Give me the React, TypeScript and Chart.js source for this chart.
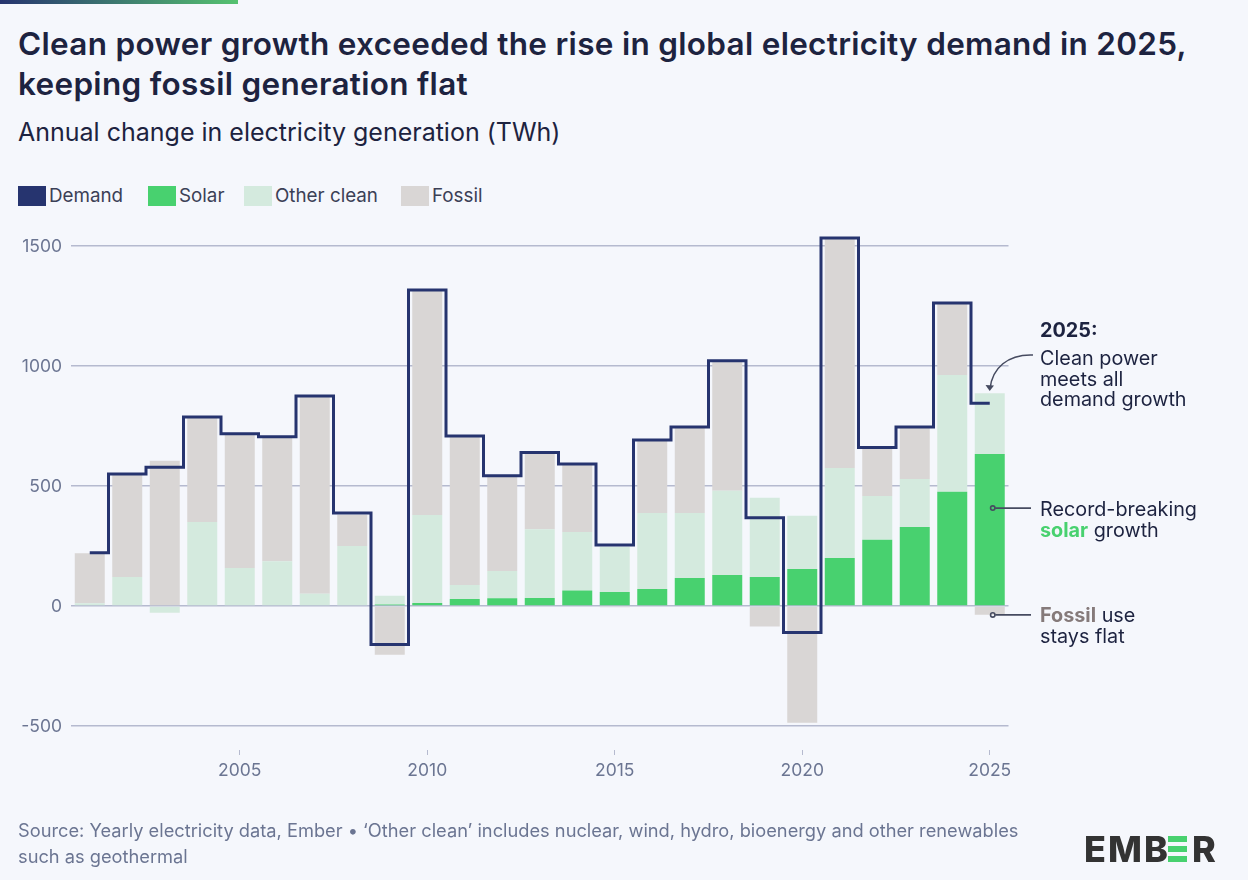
import { useEffect, useRef } from "react";
import { Chart, registerables } from "chart.js";

Chart.register(...registerables);

const years = [
  "2001", "2002", "2003", "2004", "2005", "2006", "2007", "2008", "2009",
  "2010", "2011", "2012", "2013", "2014", "2015", "2016", "2017", "2018",
  "2019", "2020", "2021", "2022", "2023", "2024", "2025",
];
const solar = [0, 0, 0, 0, 0, 0, 0, 3, 6, 12, 29, 32, 33, 65, 58, 71, 117, 129, 121, 154, 200, 276, 329, 476, 633];
const otherClean = [11, 121, -28, 350, 158, 186, 51, 247, 37, 367, 58, 114, 287, 243, 189, 316, 270, 351, 330, 222, 375, 182, 200, 486, 253];
const fossil = [209, 425, 605, 434, 555, 514, 820, 130, -203, 938, 620, 395, 318, 284, -5, 305, 359, 541, -85, -486, 958, 200, 217, 300, -36];
const demand = [222, 550, 578, 787, 718, 705, 875, 388, -160, 1317, 708, 543, 640, 592, 254, 692, 746, 1022, 368, -110, 1533, 660, 746, 1263, 845];
const yTicks = [-500, 0, 500, 1000, 1500];
const legendItems = ["Demand", "Solar", "Other clean", "Fossil"];
const solarCallout = 408;
const fossilCallout = -37;

const NAVY = "#26346f";
const GREEN = "#48d16f";
const PALE = "#d4eade";
const GREY = "#d9d6d5";
const BG = "#f5f7fc";
const MUTED = "#6b7592";
const INK = "#1d2340";
const FONT = "Inter, sans-serif";

const legendColors = [NAVY, GREEN, PALE, GREY];
const legendLeft = [18, 148, 244, 401];

// connector lines and the curved arrow next to the 2025 bar
const calloutPlugin = {
  id: "callouts",
  afterDraw(chart: any) {
    const { ctx, scales } = chart;
    const x = scales.x.getPixelForValue(24) + 3;
    ctx.save();
    ctx.strokeStyle = "#464b60";
    ctx.fillStyle = "#464b60";
    ctx.lineWidth = 1.6;
    [solarCallout, fossilCallout].forEach((v) => {
      const y = scales.y.getPixelForValue(v);
      ctx.beginPath();
      ctx.moveTo(x + 2.5, y);
      ctx.lineTo(1031, y);
      ctx.stroke();
      ctx.beginPath();
      ctx.arc(x, y, 2.2, 0, Math.PI * 2);
      ctx.stroke();
    });
    ctx.beginPath();
    ctx.moveTo(1033, 355);
    ctx.bezierCurveTo(1008, 354, 992, 368, 990, 389);
    ctx.stroke();
    ctx.beginPath();
    ctx.moveTo(985.5, 385);
    ctx.lineTo(989.7, 391);
    ctx.lineTo(994, 385.5);
    ctx.closePath();
    ctx.fill();
    ctx.restore();
  },
};

const App = () => {
  const chartRef = useRef<HTMLCanvasElement>(null);

  useEffect(() => {
    //@ts-ignore
    const ctx = chartRef.current.getContext("2d");

    const chart = new Chart(ctx, {
      type: "bar",
      data: {
        labels: years,
        datasets: [
          {
            type: "line",
            label: "Demand",
            data: demand,
            stepped: "middle",
            borderColor: NAVY,
            borderWidth: 3,
            borderJoinStyle: "miter",
            pointRadius: 0,
            fill: false,
            clip: false,
            order: 0,
          },
          { label: "Solar", data: solar, backgroundColor: GREEN, stack: "gen", order: 1 },
          { label: "Other clean", data: otherClean, backgroundColor: PALE, stack: "gen", order: 1 },
          { label: "Fossil", data: fossil, backgroundColor: GREY, stack: "gen", order: 1 },
        ] as any,
      },
      plugins: [calloutPlugin],
      options: {
        responsive: false,
        animation: false,
        barPercentage: 0.8,
        categoryPercentage: 1,
        layout: { padding: { top: 234, bottom: 94, left: 0, right: 239.5 } },
        plugins: { legend: { display: false }, tooltip: { enabled: false } },
        scales: {
          x: {
            stacked: true,
            offset: true,
            // tall enough to hold the labels, they get clipped to the scale box
            afterFit: (s: any) => {
              s.height = 60;
            },
            grid: {
              offset: false,
              drawOnChartArea: false,
              tickLength: 30,
              tickBorderDash: [0, 24, 5, 30],
              tickColor: (c: any) => (years[c.index] && +years[c.index] % 5 === 0 ? "#b5bacf" : "transparent"),
            },
            border: { display: false },
            ticks: {
              autoSkip: false,
              maxRotation: 0,
              padding: 4,
              color: MUTED,
              font: { family: FONT, size: 17.5 },
              callback: (_v: any, i: number) => (+years[i] % 5 === 0 ? years[i] : ""),
            },
          },
          y: {
            stacked: true,
            min: -500,
            max: 1550,
            afterFit: (s: any) => {
              s.width = 71;
            },
            afterBuildTicks: (s: any) => {
              s.ticks = yTicks.map((value) => ({ value }));
            },
            grid: { color: "#b5bacf", lineWidth: 1.5, drawTicks: false },
            border: { display: false },
            ticks: {
              padding: 9,
              labelOffset: 1,
              color: MUTED,
              font: { family: FONT, size: 17.5 },
              callback: (v: any) => String(v),
            },
          },
        },
      } as any,
    });

    return () => {
      chart.destroy();
    };
  }, []);

  const note = { position: "absolute", left: 1040, fontSize: 19.8, lineHeight: "20.5px", color: INK, whiteSpace: "nowrap" } as any;

  return (
    <div style={{ position: "fixed", left: 0, top: 0, width: 1248, height: 880, background: BG, overflow: "hidden", fontFamily: FONT }}>
      <div style={{ position: "absolute", left: 0, top: 0, width: 238, height: 4, background: `linear-gradient(90deg, ${NAVY}, #55c270)` }} />
      <div style={{ position: "absolute", left: 18, top: 24, fontSize: 31.5, lineHeight: "40px", fontWeight: 600, letterSpacing: 0.3, color: INK, whiteSpace: "nowrap" }}>
        Clean power growth exceeded the rise in global electricity demand in 2025,
        <br />
        keeping fossil generation flat
      </div>
      <div style={{ position: "absolute", left: 18, top: 116, fontSize: 25, lineHeight: "32px", color: INK, whiteSpace: "nowrap" }}>
        Annual change in electricity generation (TWh)
      </div>
      {legendItems.map((name, i) => (
        <div key={name} style={{ position: "absolute", left: legendLeft[i], top: 183, height: 24, display: "flex", alignItems: "center", fontSize: 18.8, color: "#3b4056" }}>
          <span style={{ width: 28, height: 20, background: legendColors[i], marginRight: 3, position: "relative", top: 1 }} />
          {name}
        </div>
      ))}

      <canvas ref={chartRef} width={1248} height={880} style={{ position: "absolute", left: 0, top: 0 }} />

      <div style={{ ...note, top: 320, fontWeight: 700 }}>2025:</div>
      <div style={{ ...note, top: 348 }}>
        Clean power
        <br />
        meets all
        <br />
        demand growth
      </div>
      <div style={{ ...note, top: 499 }}>
        Record-breaking
        <br />
        <b style={{ color: GREEN }}>solar</b> growth
      </div>
      <div style={{ ...note, top: 605 }}>
        <b style={{ color: "#857a7a" }}>Fossil</b> use
        <br />
        stays flat
      </div>

      <div style={{ position: "absolute", left: 18, top: 817, fontSize: 18.25, lineHeight: "26px", color: MUTED, whiteSpace: "nowrap" }}>
        Source: Yearly electricity data, Ember • ‘Other clean’ includes nuclear, wind, hydro, bioenergy and other renewables
        <br />
        such as geothermal
      </div>

      <div style={{ position: "absolute", left: 1084, top: 828, fontSize: 36, lineHeight: "42px", fontWeight: 800, letterSpacing: 2, color: "#333333" }}>EMB</div>
      <div style={{ position: "absolute", left: 1168, top: 836, width: 19, height: 6, background: GREEN }} />
      <div style={{ position: "absolute", left: 1168, top: 846, width: 19, height: 6, background: GREEN }} />
      <div style={{ position: "absolute", left: 1168, top: 856, width: 19, height: 6, background: GREEN }} />
      <div style={{ position: "absolute", left: 1192, top: 828, fontSize: 36, lineHeight: "42px", fontWeight: 800, color: "#333333" }}>R</div>
    </div>
  );
};

export default App;
